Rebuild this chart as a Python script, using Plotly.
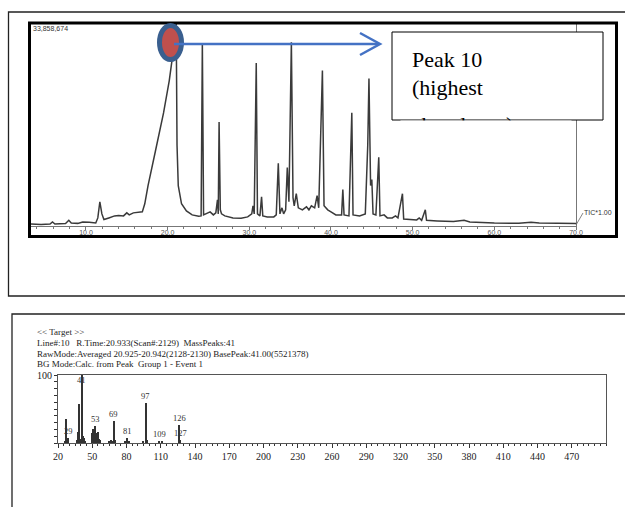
import plotly.graph_objects as go

# ---------------- data ----------------
# Total ion chromatogram (retention time, % of 33,858,674)
tic_time = [3.27, 4.5, 5.6, 5.9, 6.2, 7.5, 7.9, 8.2, 9.0, 9.6, 10.4, 11.2, 11.45, 11.7, 11.95,
            12.2, 12.8, 13.5, 14.0, 14.6, 15.0, 15.3, 15.8, 16.3, 16.9, 17.2, 17.6, 18.5, 19.5,
            20.2, 20.6, 20.95, 21.05, 21.15, 21.3, 21.7, 22.3, 23.0, 23.8, 24.1, 24.25, 24.4,
            25.0, 25.2, 25.6, 25.9, 26.1, 26.2, 26.3, 26.45, 26.6, 27.0, 28.0, 29.0, 29.8, 30.3,
            30.45, 30.6, 30.85, 31.0, 31.3, 31.5, 31.65, 32.2, 33.0, 33.3, 33.55, 33.75, 34.0,
            34.2, 34.45, 34.65, 34.85, 35.15, 35.35, 35.5, 35.75, 36.0, 36.5, 37.0, 37.3, 37.6,
            38.0, 38.3, 38.5, 38.95, 39.15, 39.6, 40.0, 40.6, 41.3, 41.45, 41.6, 42.2, 42.55,
            42.7, 43.5, 44.2, 44.5, 44.65, 44.85, 45.0, 45.15, 45.5, 45.85, 46.0, 46.5, 46.9,
            47.5, 47.9, 48.2, 48.75, 48.9, 49.5, 50.5, 50.8, 51.1, 51.55, 51.7, 53.0, 55.0,
            56.3, 57.0, 60.0, 63.0, 64.5, 65.5, 70.0]
tic_int = [1.0, 0.8, 1.0, 2.0, 1.0, 1.2, 2.8, 1.5, 1.3, 2.0, 1.8, 1.5, 4, 12, 6,
           3.2, 4, 5, 5.2, 5, 6.5, 5.5, 6.5, 6.8, 7, 11, 20, 37, 56,
           72, 84, 100, 100, 40, 20, 11, 7.5, 5.5, 4.8, 5, 90.6, 5.5,
           6.5, 7, 5.5, 6.5, 13, 6, 51.5, 8, 6, 5, 4, 3.8, 4.5, 6,
           10, 6, 80.7, 6, 5, 14.5, 5, 4.5, 4.5, 5.5, 31, 6, 9,
           6, 8, 29, 12, 91, 14, 10, 16, 9, 8, 9.5, 8, 10,
           9, 15, 9, 77, 10, 8, 7, 5.5, 5.5, 18, 5.5, 5, 56,
           5.5, 5, 6, 40, 73, 20, 23, 6, 5.5, 34, 5, 5.5, 4,
           4, 5, 4, 16, 3.5, 3.2, 3, 4, 2.8, 8, 2.8, 2.5, 2.2,
           2.8, 2.0, 1.5, 1.3, 1.8, 1.5, 1.2]
tic_ticks = [10, 20, 30, 40, 50, 60, 70]
tic_ticktext = ["10.0", "20.0", "30.0", "40.0", "50.0", "60.0", "70.0"]

# Mass spectrum of peak 10 (m/z, relative intensity %)
ms_mz = [26, 27, 28, 29, 37, 38, 39, 40, 41, 42, 43, 44, 50, 51, 52, 53, 54, 55, 56, 57,
         65, 66, 67, 68, 69, 70, 79, 81, 82, 95, 97, 98, 109, 111, 126, 127]
ms_int = [3, 35, 6, 8, 4, 16, 57, 6, 100, 11, 8, 2, 15, 20, 10, 25, 14, 16, 6, 5,
          3, 2, 5, 3, 33, 4, 3, 7, 3, 3, 59, 4, 3, 2, 27, 4]
ms_labels = [29, 41, 53, 69, 81, 97, 109, 126, 127]
ms_ticks = list(range(20, 471, 30))

header_lines = [
    "<< Target >>",
    "Line#:10\u00a0\u00a0 R.Time:20.933(Scan#:2129)\u00a0 MassPeaks:41",
    "RawMode:Averaged 20.925-20.942(2128-2130) BasePeak:41.00(5521378)",
    "BG Mode:Calc. from Peak\u00a0 Group 1 - Event 1",
]
callout_lines = ["Peak 10", "(highest", "abundance)"]

# ---------------- layout helpers ----------------
W, H = 625, 507
def px(x):
    return x / W
def py(y):
    return 1 - y / H

SERIF = "Liberation Serif"
SANS = "Liberation Sans Narrow, Liberation Sans, Arial, sans-serif"

fig = go.Figure()
fig.add_trace(go.Scatter(x=tic_time, y=tic_int, mode="lines",
                         line=dict(color="#3a3a3a", width=1.5),
                         xaxis="x", yaxis="y", hoverinfo="skip", showlegend=False))
fig.add_trace(go.Bar(x=ms_mz, y=ms_int, width=1.4, marker=dict(color="#333", line=dict(width=0)),
                     xaxis="x2", yaxis="y2", hoverinfo="skip", showlegend=False))

fig.update_layout(
    width=W, height=H, margin=dict(l=0, r=0, t=0, b=0, pad=0, autoexpand=False),
    paper_bgcolor="white", plot_bgcolor="white", showlegend=False,
    xaxis=dict(domain=[px(31), px(576)], range=[3.27, 70], showgrid=False, zeroline=False,
               automargin=False,
               showline=True, linecolor="#777", linewidth=1, mirror=True,
               ticks="outside", ticklen=3, tickcolor="#777",
               tickvals=tic_ticks, ticktext=tic_ticktext, ticklabelstandoff=-3,
               tickfont=dict(family=SANS, size=7, color="#555"),
               minor=dict(dtick=2, ticklen=2, ticks="outside", tickcolor="#777", showgrid=False)),
    yaxis=dict(domain=[py(226), py(24)], range=[0, 100], showgrid=False, zeroline=False,
               automargin=False,
               showline=True, linecolor="#777", linewidth=1, mirror=True,
               showticklabels=False, ticks=""),
    xaxis2=dict(domain=[px(58), px(606)], range=[20, 500], anchor="y2", showgrid=False,
                automargin=False,
                zeroline=False, showline=True, linecolor="#555", linewidth=1, mirror=True,
                ticks="outside", ticklen=4, tickcolor="#333", tickvals=ms_ticks,
                tickfont=dict(family=SERIF, size=10, color="#222"),
                minor=dict(dtick=5, ticklen=2, ticks="outside", tickcolor="#333", showgrid=False)),
    yaxis2=dict(domain=[py(443), py(375)], range=[0, 100], anchor="x2", showgrid=False,
                automargin=False,
                zeroline=False, showline=True, linecolor="#555", linewidth=1, mirror=True,
                ticks="outside", ticklen=3, tickcolor="#333",
                tickvals=[0, 10, 20, 30, 40, 50, 60, 70, 80, 90, 100],
                ticktext=["", "", "", "", "", "", "", "", "", "", "100"],
                tickfont=dict(family=SERIF, size=10, color="#222")),
    bargap=0,
)

shapes = [
    # outer panel frames
    dict(type="rect", xref="paper", yref="paper", x0=px(8.5), y0=py(12), x1=px(640), y1=py(296),
         line=dict(color="#222", width=1.3), layer="below"),
    dict(type="rect", xref="paper", yref="paper", x0=px(12), y0=py(314), x1=px(640), y1=py(520),
         line=dict(color="#222", width=1.3), layer="below"),
    # thick chromatogram frame
    dict(type="rect", xref="paper", yref="paper", x0=px(29.5), y0=py(23), x1=px(616.5), y1=py(236.5),
         line=dict(color="black", width=3), layer="above"),
    # TIC leader line
    dict(type="line", xref="paper", yref="paper", x0=px(576), y0=py(225), x1=px(583), y1=py(213),
         line=dict(color="#666", width=0.8), layer="above"),
    # callout box
    dict(type="rect", xref="paper", yref="paper", x0=px(392), y0=py(32), x1=px(603), y1=py(120),
         line=dict(color="black", width=1), fillcolor="white", layer="above"),
    # highlighted peak marker
    dict(type="circle", xref="paper", yref="paper", x0=px(159.5), x1=px(181.5), y0=py(25.5), y1=py(59.5),
         fillcolor="#C0504D", line=dict(color="#3A5F8F", width=5), layer="above"),
    # arrow
    dict(type="line", xref="paper", yref="paper", x0=px(174), y0=py(44), x1=px(379), y1=py(44),
         line=dict(color="#4472C4", width=2.5), layer="above"),
    dict(type="path", xref="paper", yref="paper",
         path=f"M {px(360)},{py(33)} L {px(380)},{py(44)} L {px(360)},{py(55)}",
         line=dict(color="#4472C4", width=2.5), layer="above"),
]
fig.update_layout(shapes=shapes)

annotations = [
    dict(text="33,858,674", xref="paper", yref="paper", x=px(31), y=py(29), xanchor="left",
         yanchor="middle", showarrow=False, font=dict(family=SANS, size=7, color="#333")),
    dict(text="TIC*1.00", xref="paper", yref="paper", x=px(582), y=py(212), xanchor="left",
         yanchor="middle", showarrow=False, font=dict(family=SANS, size=7, color="#333")),
]
for line, yy in zip(callout_lines, [59, 87, 124]):
    annotations.append(dict(text=line, xref="paper", yref="paper", x=px(410), y=py(yy),
                            xanchor="left", yanchor="middle", showarrow=False,
                            font=dict(family=SERIF, size=22, color="black")))
# white cover hides the part of the last callout line that falls outside the box
annotations.append(dict(text=" ", xref="paper", yref="paper", x=px(400), y=py(119.5),
                        xanchor="left", yanchor="top", width=170, height=30, borderpad=0,
                        bgcolor="white", showarrow=False, font=dict(size=10)))
header_y = [332, 343, 354, 364]
for line, yy in zip(header_lines, header_y):
    annotations.append(dict(text=line.replace("<", "&lt;").replace(">", "&gt;"), xref="paper", yref="paper",
                            x=px(35), y=py(yy), xanchor="left", yanchor="middle", showarrow=False,
                            font=dict(family=SERIF, size=9, color="#222")))
for mz in ms_labels:
    val = ms_int[ms_mz.index(mz)]
    top = val >= 95
    annotations.append(dict(text=str(mz), xref="x2", yref="y2", x=mz, y=val,
                            xanchor="center", yanchor="top" if top else "bottom",
                            yshift=2 if top else 0, showarrow=False,
                            font=dict(family=SERIF, size=8.5, color="#333")))
fig.update_layout(annotations=annotations)

fig.write_html("out.html")
